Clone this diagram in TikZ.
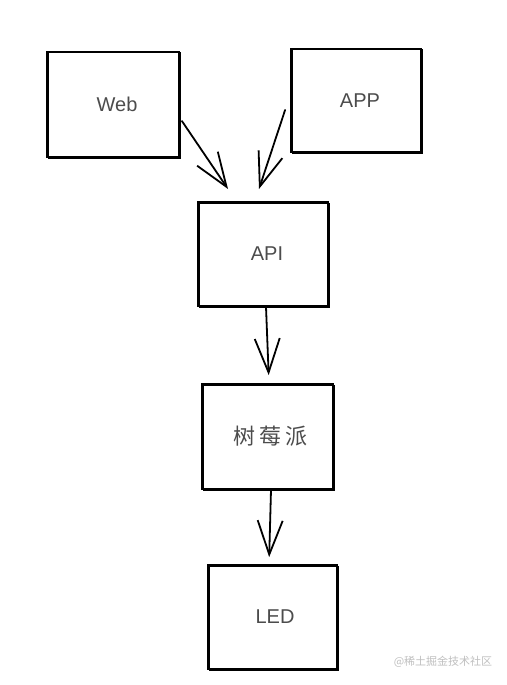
\documentclass[tikz,border=0pt]{standalone}
\usepackage{fontspec}
\setmainfont{Liberation Sans}
\newfontfamily\cjk{Noto Sans CJK SC}
\usetikzlibrary{arrows.meta}
\tikzset{
  box/.style={draw, line width=1.8pt, minimum width=130pt, minimum height=104pt,
    text=black!70, font=\fontsize{20}{24}\selectfont,
    postaction={draw, line width=0.6pt, transform canvas={shift={(1pt,-0.8pt)}}}},
  sketch/.style={line width=1.8pt, line cap=round,
    -{Straight Barb[length=34pt, width=25pt, line width=1.8pt]}}
}
\begin{document}
\begin{tikzpicture}[x=1pt, y=-1pt]
  \useasboundingbox (0,0) rectangle (506,685);
  \node[box, minimum width=132pt, minimum height=105pt] (web) at (113,104.5) {\raisebox{-3pt}{\hspace{8pt}Web}};
  \node[box, minimum height=103pt] (app) at (356,100.5) {\raisebox{-3pt}{\hspace{8pt}APP}};
  \node[box] (api) at (263,254) {\raisebox{-4pt}{\hspace{8pt}API}};
  \node[box, minimum width=131pt, minimum height=105pt, font=\cjk\fontsize{22}{26}\selectfont] (pi) at (267.5,436.5) {\hspace{6pt}树\hspace{4pt}莓\hspace{4pt}派};
  \node[box, minimum width=129pt] (led) at (272.5,617) {\raisebox{-5pt}{\hspace{5pt}LED}};
  \coordinate (webtip) at (228,189);
  \coordinate (apptip) at (259,189);
  % arrows
  \draw[sketch] ([shift={(2pt,-16.5pt)}]web.east) -- (webtip);
  \draw[sketch] ([shift={(-5pt,-9.5pt)}]app.west) -- (apptip);
  \draw[sketch, shorten >=8pt] ([xshift=3pt]api.south) -- ([xshift=1.5pt]pi.north);
  \draw[sketch, shorten >=7pt] ([xshift=3.5pt]pi.south) -- ([xshift=-3.5pt]led.north);
  \node[text=black!25, font=\cjk\fontsize{11}{13}\selectfont] (mark) at (443,662) {@稀土掘金技术社区};
\end{tikzpicture}
\end{document}
